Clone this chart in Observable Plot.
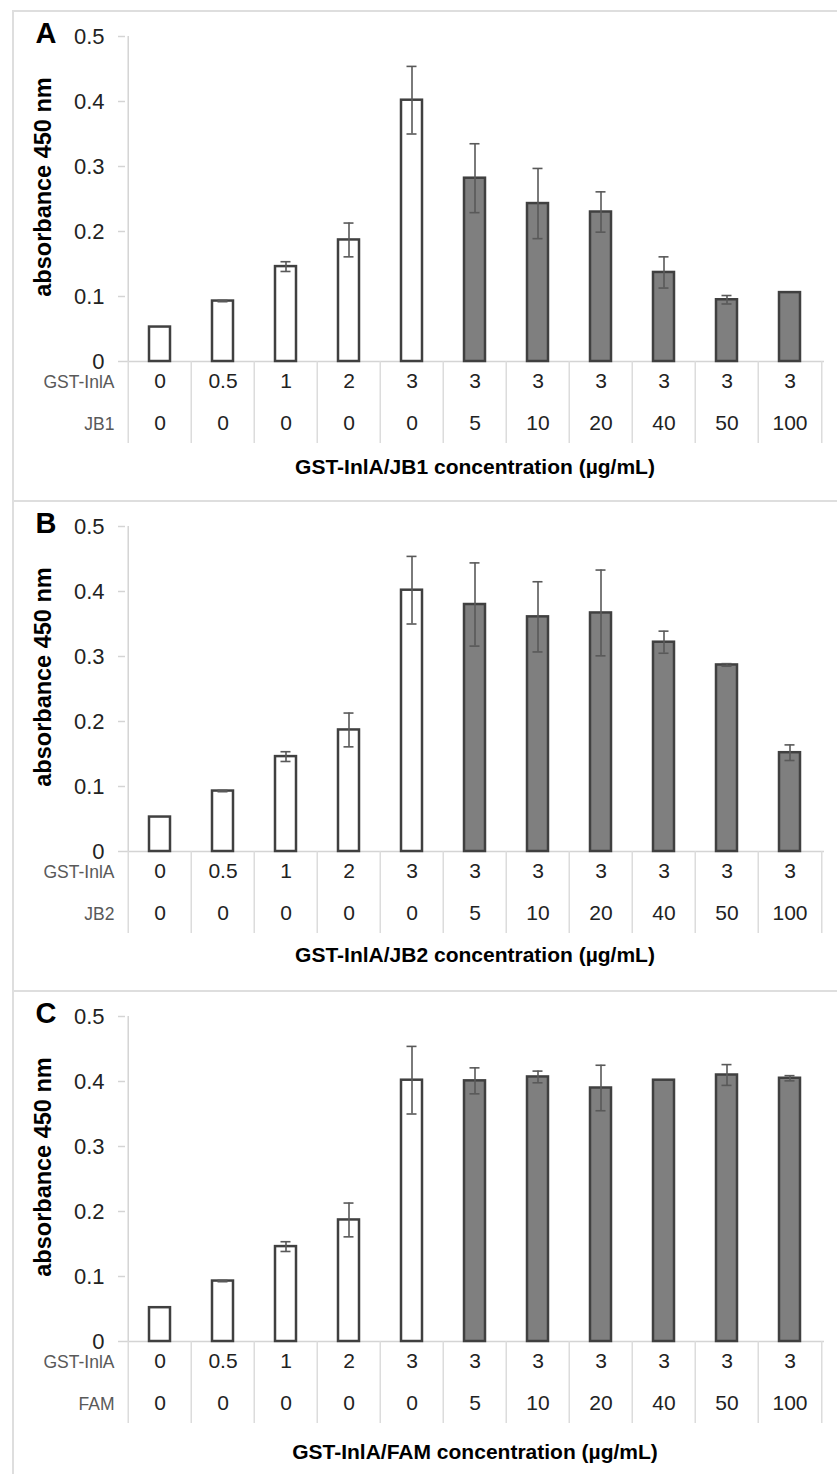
<!DOCTYPE html>
<html>
<head>
<meta charset="utf-8">
<script src="https://cdn.jsdelivr.net/npm/d3@7"></script>
<script src="https://cdn.jsdelivr.net/npm/@observablehq/plot@0.6"></script>
<style>
  html, body { margin: 0; padding: 0; background: #fff; }
  body { width: 837px; height: 1474px; position: relative; overflow: hidden;
         font-family: "Liberation Sans", Arial, sans-serif; }
  .panel { position: absolute; left: 12px; width: 825px;
           border-top: 2px solid #dedede; border-left: 2px solid #dedede; }
</style>
</head>
<body>
<div id="pA" class="panel" style="top:10px"></div>
<div id="pB" class="panel" style="top:500px"></div>
<div id="pC" class="panel" style="top:990px"></div>
<script>
// ---- data ----
const gstInlA = ["0", "0.5", "1", "2", "3", "3", "3", "3", "3", "3", "3"];
const competitor = ["0", "0", "0", "0", "0", "5", "10", "20", "40", "50", "100"];
const yTicks = [0, 0.1, 0.2, 0.3, 0.4, 0.5];
const yTickLabels = ["0", "0.1", "0.2", "0.3", "0.4", "0.5"];

const meanA = [0.053, 0.093, 0.146, 0.187, 0.402, 0.282, 0.243, 0.230, 0.137, 0.095, 0.106];
const sdA   = [0, 0.001, 0.0075, 0.026, 0.052, 0.053, 0.054, 0.031, 0.024, 0.0065, 0];

const meanB = [0.053, 0.093, 0.146, 0.187, 0.402, 0.380, 0.361, 0.367, 0.322, 0.287, 0.152];
const sdB   = [0, 0.001, 0.0075, 0.026, 0.052, 0.064, 0.054, 0.066, 0.017, 0.002, 0.012];

const meanC = [0.052, 0.093, 0.146, 0.187, 0.402, 0.401, 0.407, 0.390, 0.402, 0.410, 0.405];
const sdC   = [0, 0.001, 0.0075, 0.026, 0.052, 0.020, 0.009, 0.035, 0, 0.016, 0.004];

const panels = [
  {id: "pA", letter: "A", comp: "JB1", mean: meanA, sd: sdA, titleDy: 112},
  {id: "pB", letter: "B", comp: "JB2", mean: meanB, sd: sdB, titleDy: 110},
  {id: "pC", letter: "C", comp: "FAM", mean: meanC, sd: sdC, titleDy: 117}
];

// ---- layout ----
const W = 823, H = 488;
const ML = 111, MR = 13, MT = 24, MB = 139;
const nCat = gstInlA.length;
const step = (W - ML - MR) / nCat;
const FONT = "Liberation Sans, Arial, sans-serif";

for (const p of panels) {
  const rows = gstInlA.map((g, i) => ({
    i, gst: g, comp: competitor[i], mean: p.mean[i], sd: p.sd[i], treated: i >= 5
  }));
  const err = rows.filter(d => d.sd > 0);
  const lastCat = [nCat - 1];
  const firstCat = [0];

  const chart = Plot.plot({
    width: W, height: H,
    marginLeft: ML, marginRight: MR, marginTop: MT, marginBottom: MB,
    style: {fontFamily: FONT, background: "white", overflow: "visible"},
    x: {type: "band", domain: d3.range(nCat), paddingInner: 0.66, paddingOuter: 0.33, axis: null},
    y: {domain: [0, 0.5], label: null},
    marks: [
      // y-axis ticks + labels
      Plot.axisY({ticks: yTicks, tickFormat: (d, k) => yTickLabels[k], tickSize: 7, tickPadding: 14,
                  stroke: "#d4d4d4", color: "#222", fontSize: 22, label: null, strokeWidth: 1.5}),
      // y-axis line
      Plot.ruleX(firstCat, {x: d => d, dx: -step / 2, y1: 0, y2: 0.5, stroke: "#d4d4d4", strokeWidth: 1.5}),
      // baseline
      Plot.ruleY([0], {stroke: "#d4d4d4", strokeWidth: 1.5}),
      // table separators
      Plot.ruleX(rows, {x: "i", dx: -step / 2, y1: 0, y2: 0, insetBottom: -82, stroke: "#dcdcdc", strokeWidth: 1.5}),
      Plot.ruleX(lastCat, {x: d => d, dx: step / 2, y1: 0, y2: 0, insetBottom: -82, stroke: "#dcdcdc", strokeWidth: 1.5}),
      // bars
      Plot.barY(rows.filter(d => !d.treated), {x: "i", y: "mean", fill: "white", stroke: "#404040", strokeWidth: 2.5}),
      Plot.barY(rows.filter(d => d.treated), {x: "i", y: "mean", fill: "#7f7f7f", stroke: "#404040", strokeWidth: 2.5}),
      // error bars
      Plot.ruleX(err, {x: "i", y1: d => d.mean - d.sd, y2: d => d.mean + d.sd, stroke: "#595959", strokeWidth: 1.6}),
      Plot.tickY(err, {x: "i", y: d => d.mean + d.sd, insetLeft: 5.5, insetRight: 5.5, stroke: "#595959", strokeWidth: 1.6}),
      Plot.tickY(err, {x: "i", y: d => d.mean - d.sd, insetLeft: 5.5, insetRight: 5.5, stroke: "#595959", strokeWidth: 1.6}),
      // table values
      Plot.text(rows, {x: "i", text: "gst", frameAnchor: "bottom", dy: 26, fontSize: 21, fill: "#222"}),
      Plot.text(rows, {x: "i", text: "comp", frameAnchor: "bottom", dy: 68, fontSize: 21, fill: "#222"}),
      // row labels
      Plot.text(["GST-InlA"], {frameAnchor: "bottom-left", dx: -11, dy: 26, textAnchor: "end", fontSize: 17.5, fill: "#595959"}),
      Plot.text([p.comp], {frameAnchor: "bottom-left", dx: -11, dy: 68, textAnchor: "end", fontSize: 17.5, fill: "#595959"}),
      // axis titles
      Plot.text(["absorbance 450 nm"], {frameAnchor: "left", textAnchor: "middle", rotate: -90, dx: -82, dy: -12,
                                         fontSize: 23.5, fontWeight: "bold", fill: "#000"}),
      Plot.text([`GST-InlA/${p.comp} concentration (µg/mL)`], {frameAnchor: "bottom", dy: p.titleDy, fontSize: 21, fontWeight: "bold", fill: "#000"}),
      // panel letter
      Plot.text([p.letter], {frameAnchor: "top-left", dx: -90, dy: 6, textAnchor: "start", lineAnchor: "bottom",
                             fontSize: 29, fontWeight: "bold", fill: "#000"})
    ]
  });
  document.getElementById(p.id).appendChild(chart);
}
</script>
</body>
</html>
